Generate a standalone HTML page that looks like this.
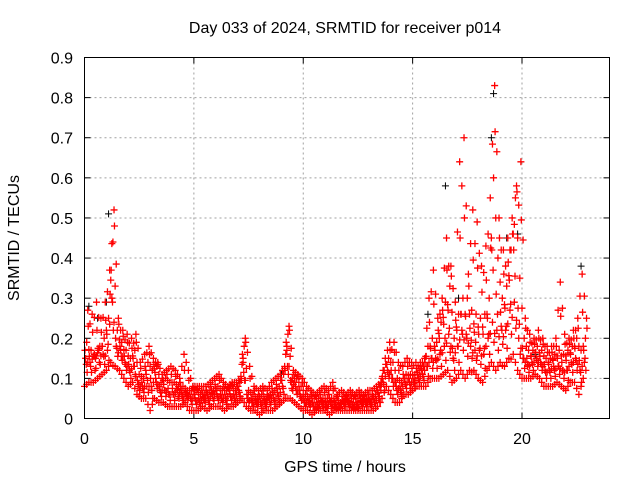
<!DOCTYPE html>
<html><head><meta charset="utf-8"><style>
html,body{margin:0;padding:0;background:#fff}
svg{display:block;font-family:"Liberation Sans",Arial,sans-serif}
</style></head><body>
<svg id="chart" width="640" height="480" viewBox="0 0 640 480">
<text x="345" y="33" text-anchor="middle" font-size="16">Day 033 of 2024, SRMTID for receiver p014</text>
<text x="345" y="472" text-anchor="middle" font-size="16">GPS time / hours</text>
<text transform="translate(19,238) rotate(-90)" text-anchor="middle" font-size="16">SRMTID / TECUs</text>
<g id="grid"></g><g id="ticks"></g><g id="marks"></g>
<rect x="84.5" y="57.5" width="525" height="361" fill="none" stroke="#000" stroke-width="1"/>
</svg>
<script>
const xTicks=[0,5,10,15,20];
const yTicks=[0,0.1,0.2,0.3,0.4,0.5,0.6,0.7,0.8,0.9];
const yTickLabels=["0","0.1","0.2","0.3","0.4","0.5","0.6","0.7","0.8","0.9"];
const step=0.2;
const lo=[.08,.09,.09,.10,.11,.12,.14,.13,.12,.10,.08,.09,.06,.05,.05,.02,.05,.04,.04,.03,.03,.03,.03,.04,.02,.02,.02,.03,.02,.03,.03,.03,.02,.03,.03,.04,.05,.03,.02,.02,.01,.02,.02,.02,.03,.04,.05,.05,.04,.03,.02,.02,.01,.02,.02,.02,.01,.02,.02,.02,.02,.02,.02,.02,.02,.02,.02,.03,.05,.08,.06,.04,.04,.06,.06,.07,.08,.08,.08,.10,.10,.10,.11,.12,.09,.10,.12,.10,.12,.12,.10,.09,.12,.14,.12,.14,.13,.15,.16,.12,.10,.10,.10,.11,.10,.08,.08,.08,.09,.08,.07,.09,.09,.06,.10];
const mid1=[.15,.14,.16,.17,.16,.17,.30,.18,.17,.14,.12,.13,.08,.08,.08,.08,.10,.07,.07,.06,.06,.07,.06,.06,.05,.05,.04,.05,.05,.06,.06,.05,.05,.06,.05,.07,.14,.05,.04,.04,.04,.04,.05,.05,.05,.08,.17,.09,.08,.06,.04,.04,.03,.03,.04,.03,.04,.03,.03,.04,.04,.03,.03,.04,.04,.04,.04,.05,.09,.12,.10,.08,.07,.09,.09,.09,.10,.11,.13,.15,.15,.16,.18,.21,.15,.18,.22,.21,.18,.17,.17,.16,.20,.24,.22,.23,.22,.27,.29,.20,.15,.13,.14,.15,.14,.12,.12,.13,.13,.12,.12,.14,.15,.12,.14];
const mid2=[.19,.17,.15,.18,.20,.25,.44,.22,.19,.17,.15,.17,.11,.10,.14,.12,.13,.09,.10,.09,.09,.08,.08,.07,.07,.07,.06,.06,.07,.07,.08,.07,.07,.08,.07,.09,.18,.07,.06,.05,.06,.05,.06,.07,.08,.11,.21,.10,.10,.08,.06,.05,.05,.05,.05,.05,.05,.05,.04,.05,.05,.05,.05,.05,.05,.05,.06,.08,.12,.15,.14,.10,.09,.11,.11,.11,.12,.13,.18,.20,.19,.24,.29,.33,.20,.26,.30,.30,.27,.26,.25,.26,.30,.60,.40,.30,.33,.42,.55,.35,.20,.17,.17,.18,.17,.15,.15,.16,.17,.16,.17,.18,.20,.17,.20];
const hi=[.27,.26,.29,.25,.29,.37,.52,.25,.22,.21,.20,.21,.14,.16,.18,.15,.14,.11,.12,.13,.12,.10,.16,.12,.08,.08,.08,.08,.09,.10,.11,.09,.08,.09,.09,.10,.20,.13,.08,.07,.08,.07,.09,.10,.11,.13,.23,.12,.11,.10,.08,.07,.06,.07,.08,.07,.09,.06,.07,.06,.07,.06,.07,.06,.07,.07,.08,.09,.15,.19,.19,.14,.13,.15,.14,.14,.14,.15,.30,.37,.25,.30,.45,.38,.29,.64,.70,.36,.52,.49,.38,.43,.55,.83,.50,.42,.45,.50,.58,.64,.25,.21,.20,.22,.20,.18,.18,.20,.34,.21,.20,.22,.25,.36,.25];
const blackT=[0.2,0.6,1.0,1.1,9.0,15.7,16.5,17.1,18.6,18.7,19.3,19.8,20.6,22.7];
const blackV=[.28,.25,.29,.51,.11,.26,.58,.30,.70,.81,.45,.46,.16,.38];

const X0=84.5,X1=609.5,Y0=418.5,Y1=57.5;
const xs=t=>X0+(t/24)*(X1-X0);
const ys=v=>Y0-(v/0.9)*(Y0-Y1);
const NS="http://www.w3.org/2000/svg";
const grid=document.getElementById('grid'),ticks=document.getElementById('ticks'),marks=document.getElementById('marks');
function mk(tag,attrs,parent){const e=document.createElementNS(NS,tag);for(const k in attrs)e.setAttribute(k,attrs[k]);parent.appendChild(e);return e;}
xTicks.forEach(t=>{
  const x=xs(t);
  if(t>0){const g=mk('line',{x1:x,x2:x,y1:Y1,y2:Y0,stroke:'#a0a0a0','stroke-dasharray':'2,3'},grid);
  
  }
  mk('line',{x1:x,x2:x,y1:Y0,y2:Y0-6,stroke:'#000'},ticks);
  mk('line',{x1:x,x2:x,y1:Y1,y2:Y1+6,stroke:'#000'},ticks);
  const l=mk('text',{x:x,y:444,'text-anchor':'middle','font-size':16},ticks);
  l.textContent=String(t);
  
  
});
yTicks.forEach((v,i)=>{
  const y=ys(v);
  if(i>0&&i<yTicks.length-1){const g=mk('line',{x1:X0,x2:X1,y1:y,y2:y,stroke:'#a0a0a0','stroke-dasharray':'2,3'},grid);
  
  }
  mk('line',{x1:X0,x2:X0+6,y1:y,y2:y,stroke:'#000'},ticks);
  mk('line',{x1:X1,x2:X1-6,y1:y,y2:y,stroke:'#000'},ticks);
  const l=mk('text',{x:73,y:y+6,'text-anchor':'end','font-size':16},ticks);
  l.textContent=yTickLabels[i];
  
  
});
function plus(x,y){return `M${x-3.5},${y}h7M${x},${y-3.5}v7`;}
let dB='';
blackT.forEach((t,i)=>{dB+=plus(xs(t),ys(blackV[i]));});
const pb=mk('path',{d:dB,stroke:'#000',fill:'none','stroke-width':1},marks);


let dR='';
const series=[[lo,0],[mid1,0.05],[mid2,0.1],[hi,0.15]];
series.forEach(([arr,off])=>{arr.forEach((v,i)=>{
  dR+=plus(xs(i*step+off),ys(v));
  if(i<arr.length-1){const w=(v+arr[i+1])/2;dR+=plus(xs(i*step+off+0.1),ys(Math.min(w,Math.max(v,arr[i+1])*0.8+0.02)));}
});});
lo.forEach((v,i)=>{
  dR+=plus(xs(i*step+0.12),ys((v+mid1[i])/2));
  dR+=plus(xs(i*step+0.02),ys((mid1[i]+mid2[i])/2));
  dR+=plus(xs(i*step+0.17),ys((mid2[i]+hi[i])/2));
  dR+=plus(xs(i*step+0.08),ys((lo[i]+mid2[i])/2));
});
const pr=mk('path',{d:dR,stroke:'#ff0000',fill:'none','stroke-width':1.3},marks);


</script>
</body></html>
